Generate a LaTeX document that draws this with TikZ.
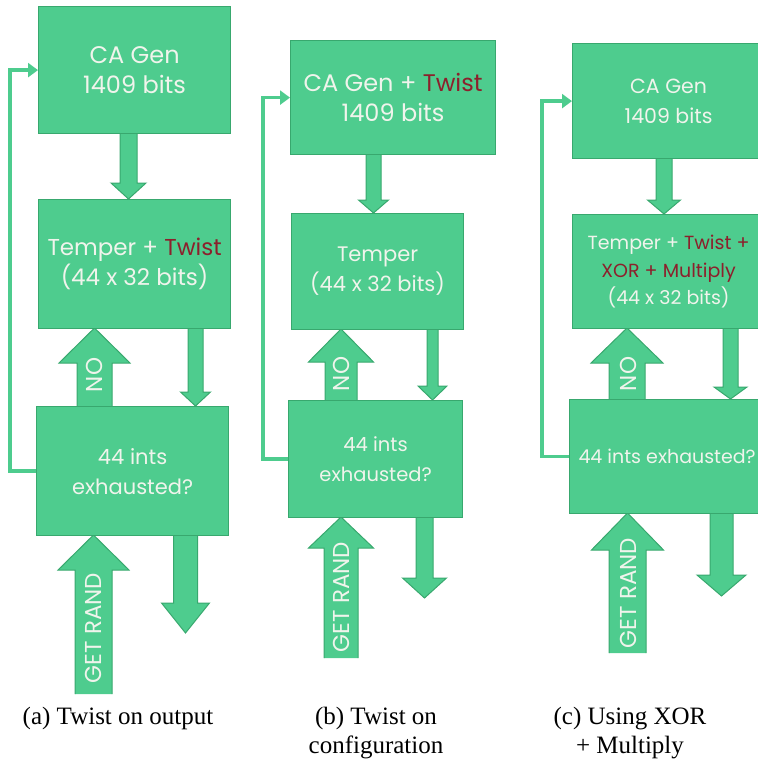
\documentclass[tikz,border=0pt]{standalone}
\usepackage{fontspec}
\setmainfont{Liberation Serif}
\newfontfamily\boxfont{Poppins}
\usetikzlibrary{arrows.meta}
\definecolor{gfill}{RGB}{78,204,142}
\definecolor{gline}{RGB}{56,168,110}
\definecolor{tw}{RGB}{240,244,236}
\definecolor{tred}{RGB}{140,32,44}
\newcommand\tw[1]{\textcolor{tred}{#1}}
\newcommand\fsz[1]{\boxfont\fontsize{#1}{30}\selectfont}
% block arrow: cx, shaft half, head half, ystart, ybase, ytip
\newcommand\barrow[6]{%
  \fill[gfill] (#1-#2,#4) -- (#1-#2,#5) -- (#1-#3,#5) -- (#1,#6) -- (#1+#3,#5) -- (#1+#2,#5) -- (#1+#2,#4) -- cycle;
  \draw[gline,line width=1pt,line join=miter] (#1-#2,#4) -- (#1-#2,#5) -- (#1-#3,#5) -- (#1,#6) -- (#1+#3,#5) -- (#1+#2,#5) -- (#1+#2,#4);}
\tikzset{
  blk/.style={draw=gline, fill=gfill, line width=1.2pt, inner sep=0pt, anchor=north west,
    align=center, text=tw, font=\fsz{22}},
  blkc/.style={blk, font=\boxfont\fontsize{19}{27.5}\selectfont},
  fb/.style={draw=gfill, line width=3.5pt, -{Triangle[length=10pt,width=14pt]}},
  lbl/.style={text=tw, rotate=90, inner sep=0pt, font=\boxfont\fontsize{23}{24}\selectfont},
  captxt/.style={align=center, font=\fontsize{25}{29}\selectfont, inner sep=0pt, anchor=north}
}
\begin{document}
\begin{tikzpicture}[x=1pt,y=-1pt]
\useasboundingbox (0,0) rectangle (758,764);
% ---------- panel (a)
\barrow{128.5}{8.5}{17.5}{133}{183}{199}
\barrow{94.5}{17.5}{35.5}{406}{363}{328}
\barrow{195.5}{7.5}{15}{328}{392}{406}
\barrow{93.5}{18.5}{35.5}{694}{570}{535}
\barrow{185.5}{12}{24}{535}{603}{633}
\node[blk, font=\fsz{24}, minimum width=192pt, minimum height=127pt] (a1) at (38,6) {CA Gen\\1409 bits};
\node[blk, font=\fsz{23}, minimum width=192pt, minimum height=129pt] (a2) at (38,199) {Temper + \tw{Twist}\\(44 x 32 bits)};
\node[blk, font=\fsz{21}, minimum width=192pt, minimum height=129pt] (a3) at (36,406) {44 ints\\exhausted?};
\draw[fb] (a3.west) -- ++(-26,0) |- (a1.west);
\node[lbl] (an) at (94.5,375) {NO};
\node[lbl] (ag) at (93.5,628) {GET RAND};
% ---------- panel (b)
\barrow{373.5}{7.5}{15}{154}{200}{213}
\barrow{341}{16}{32.5}{400}{362}{329}
\barrow{432.5}{5.5}{14.5}{329}{386}{400}
\barrow{341}{17}{32.5}{658}{548}{517}
\barrow{424.5}{8.5}{22}{517}{578}{598}
\node[blk, font=\fsz{24}, minimum width=205pt, minimum height=114pt] (b1) at (290,40) {CA Gen + \tw{Twist}\\1409 bits};
\node[blk, font=\fsz{21}, minimum width=172pt, minimum height=116pt] (b2) at (291,213) {Temper\\(44 x 32 bits)};
\node[blk, font=\fsz{19.5}, minimum width=174pt, minimum height=117pt] (b3) at (288,400) {44 ints\\exhausted?};
\draw[fb] (b3.west) -- ++(-25,0) |- (b1.west);
\node[lbl] (bn) at (341,374) {NO};
\node[lbl] (bg) at (341,597) {GET RAND};
% ---------- panel (c)
\barrow{664}{8}{16.5}{158}{200}{214}
\barrow{627}{18}{36}{399}{363}{328}
\barrow{730.5}{7.5}{16.5}{328}{387}{399}
\barrow{627.5}{18.5}{36}{653}{550}{513}
\barrow{721.5}{11.5}{24.5}{513}{575}{596}
\node[blk, font=\fsz{20.5}, minimum width=192pt, minimum height=115pt] (c1) at (572,43) {CA Gen\\1409 bits};
\node[blkc, minimum width=192pt, minimum height=114pt] (c2) at (572,214) {Temper + \tw{Twist +}\\\tw{XOR + Multiply}\\(44 x 32 bits)};
\node[blkc, minimum width=195pt, minimum height=114pt] (c3) at (569,399) {44 ints exhausted?};
\draw[fb] (c3.west) -- ++(-27,0) |- (c1.west);
\node[lbl] (cn) at (628,374) {NO};
\node[lbl] (cg) at (628,593) {GET RAND};
% ---------- captions
\node[captxt] (ca) at (118,707) {(a) Twist on output};
\node[captxt] (cb) at (376,707) {(b) Twist on\\configuration};
\node[captxt] (cc) at (630,707) {(c) Using XOR\\+ Multiply};
\end{tikzpicture}
\end{document}
